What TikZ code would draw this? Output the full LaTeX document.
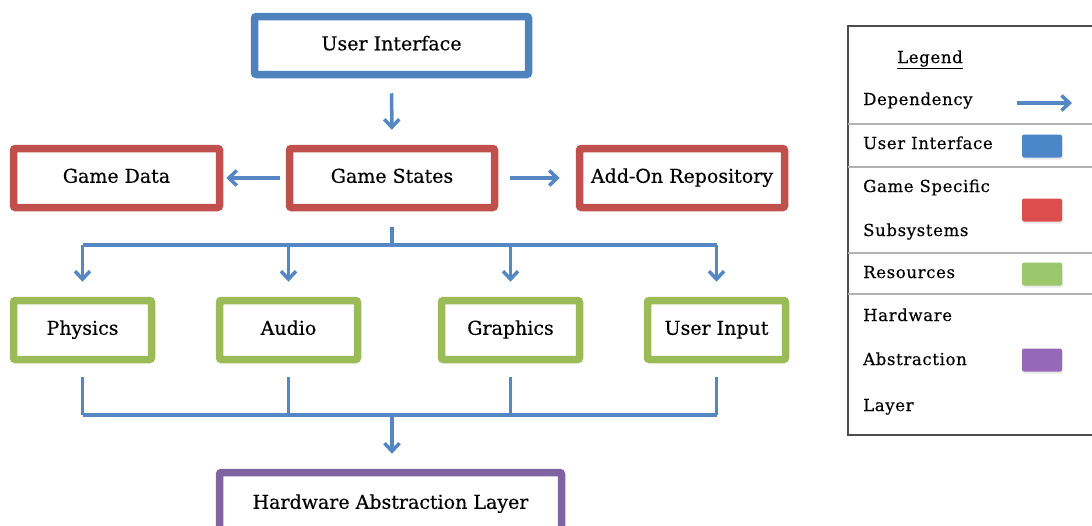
\documentclass[tikz,border=0pt]{standalone}
\usepackage{fontspec}
\setmainfont{DejaVu Serif}[FakeBold=0.4]
\usetikzlibrary{arrows.meta,shadows}

\definecolor{uiblue}{RGB}{79,129,189}
\definecolor{gsred}{RGB}{192,80,77}
\definecolor{resgreen}{RGB}{155,187,89}
\definecolor{halpurple}{RGB}{128,100,162}
\definecolor{linkblue}{RGB}{84,135,195}
\definecolor{swblue}{RGB}{74,134,200}
\definecolor{swred}{RGB}{220,78,78}
\definecolor{swgreen}{RGB}{155,200,108}
\definecolor{swpurple}{RGB}{152,104,184}

\begin{document}
\begin{tikzpicture}[x=1pt,y=-1pt,
  box/.style={draw, line width=7.5pt, rounded corners=2pt, fill=white,
    inner sep=0pt, text height=13.5pt, text depth=4pt,
    drop shadow={shadow xshift=1pt, shadow yshift=-2pt, opacity=0.18},
    font=\fontsize{19}{23}\selectfont},
  uibox/.style={box, draw=uiblue},
  gsbox/.style={box, draw=gsred},
  resbox/.style={box, draw=resgreen},
  halbox/.style={box, draw=halpurple},
  link/.style={draw=linkblue, line width=3.5pt,
    -{Straight Barb[length=8pt,width=15pt,line width=3.5pt]}},
  bus/.style={draw=linkblue, line width=3.5pt},
  legtext/.style={anchor=west, inner sep=0pt, text height=12pt, text depth=4pt,
    font=\fontsize{16.5}{20}\selectfont\addfontfeatures{LetterSpace=4}},
  swatch/.style={minimum width=40pt, minimum height=23pt, inner sep=0pt,
    rounded corners=2pt,
    drop shadow={shadow xshift=1pt, shadow yshift=-2pt, opacity=0.18}},
  sepline/.style={draw=black!30, line width=1.5pt}
]
\useasboundingbox (0,0) rectangle (1092,525);
\clip (0,0) rectangle (1092,525);

% main blocks
\node[uibox, minimum width=274pt, minimum height=58pt] (ui) at (391.5,45.5) {User Interface};
\node[gsbox, minimum width=206pt, minimum height=59pt] (gd) at (116.5,178) {Game Data};
\node[gsbox, minimum width=205pt, minimum height=59pt] (gs) at (392,178) {Game States};
\node[gsbox, minimum width=205pt, minimum height=59pt] (ao) at (682,178) {Add-On Repository};

\node[resbox, minimum width=138pt, minimum height=59pt] (phy) at (82.5,330) {Physics};
\node[resbox, minimum width=138pt, minimum height=59pt] (aud) at (288.5,330) {Audio};
\node[resbox, minimum width=138pt, minimum height=59pt] (gra) at (510.5,330) {Graphics};
\node[resbox, minimum width=138pt, minimum height=59pt] (uin) at (716.5,330) {User Input};

\node[halbox, minimum width=342pt, minimum height=63pt] (hal) at (390.5,504) {Hardware Abstraction Layer};

% dependencies between the upper blocks
\draw[link, shorten <=15pt, shorten >=15pt] (ui) -- (gs);
\draw[link, shorten <=6pt, shorten >=3pt] (gs) -- (gd);
\draw[link, shorten <=12pt, shorten >=16pt] (gs) -- (ao);

% fan-out from Game States to the resource blocks
\coordinate (bt) at (392,245);
\draw[bus] ([yshift=-16pt]gs.south) -- (bt);
\draw[bus] (phy.north |- bt) -- (uin.north |- bt);
\foreach \n in {phy,aud,gra,uin}
  \draw[link, shorten >=15pt] (\n.north |- bt) -- (\n.north);

% fan-in from the resource blocks to the hardware layer
\coordinate (bb) at (392,415);
\foreach \n in {phy,aud,gra,uin}
  \draw[bus] ([yshift=-14pt]\n.south) -- (\n.south |- bb);
\draw[bus] (phy.south |- bb) -- (uin.south |- bb);
\draw[link, shorten >=15pt] (bb) -- (bb |- hal.north);

% legend
\draw[draw=black!70, line width=2pt] (848,26) rectangle (1110,435);
\draw[sepline] (848,124) -- (1110,124);
\draw[sepline] (848,167) -- (1110,167);
\draw[sepline] (848,253) -- (1110,253);
\draw[sepline] (848,294) -- (1110,294);

\node[legtext, anchor=center] (lgtitle) at (930,59) {\underline{Legend}};
\node[legtext] (lgdep) at (863,101) {Dependency};
\coordinate (depa) at (1017,103);
\coordinate (depb) at (1072,103);
\draw[link] (depa) -- (depb);
\node[legtext] (lgui) at (863,145) {User Interface};
\node[swatch, fill=swblue] (swui) at (1042,146) {};
\node[legtext] (lggs1) at (863,188) {Game Specific};
\node[legtext] (lggs2) at (863,232) {Subsystems};
\node[swatch, fill=swred] (swgs) at (1042,210) {};
\node[legtext] (lgres) at (863,274) {Resources};
\node[swatch, fill=swgreen] (swres) at (1042,274) {};
\node[legtext] (lghw1) at (863,317) {Hardware};
\node[legtext] (lghw2) at (863,361) {Abstraction};
\node[legtext] (lghw3) at (863,407) {Layer};
\node[swatch, fill=swpurple] (swhal) at (1042,360) {};
\end{tikzpicture}
\end{document}
